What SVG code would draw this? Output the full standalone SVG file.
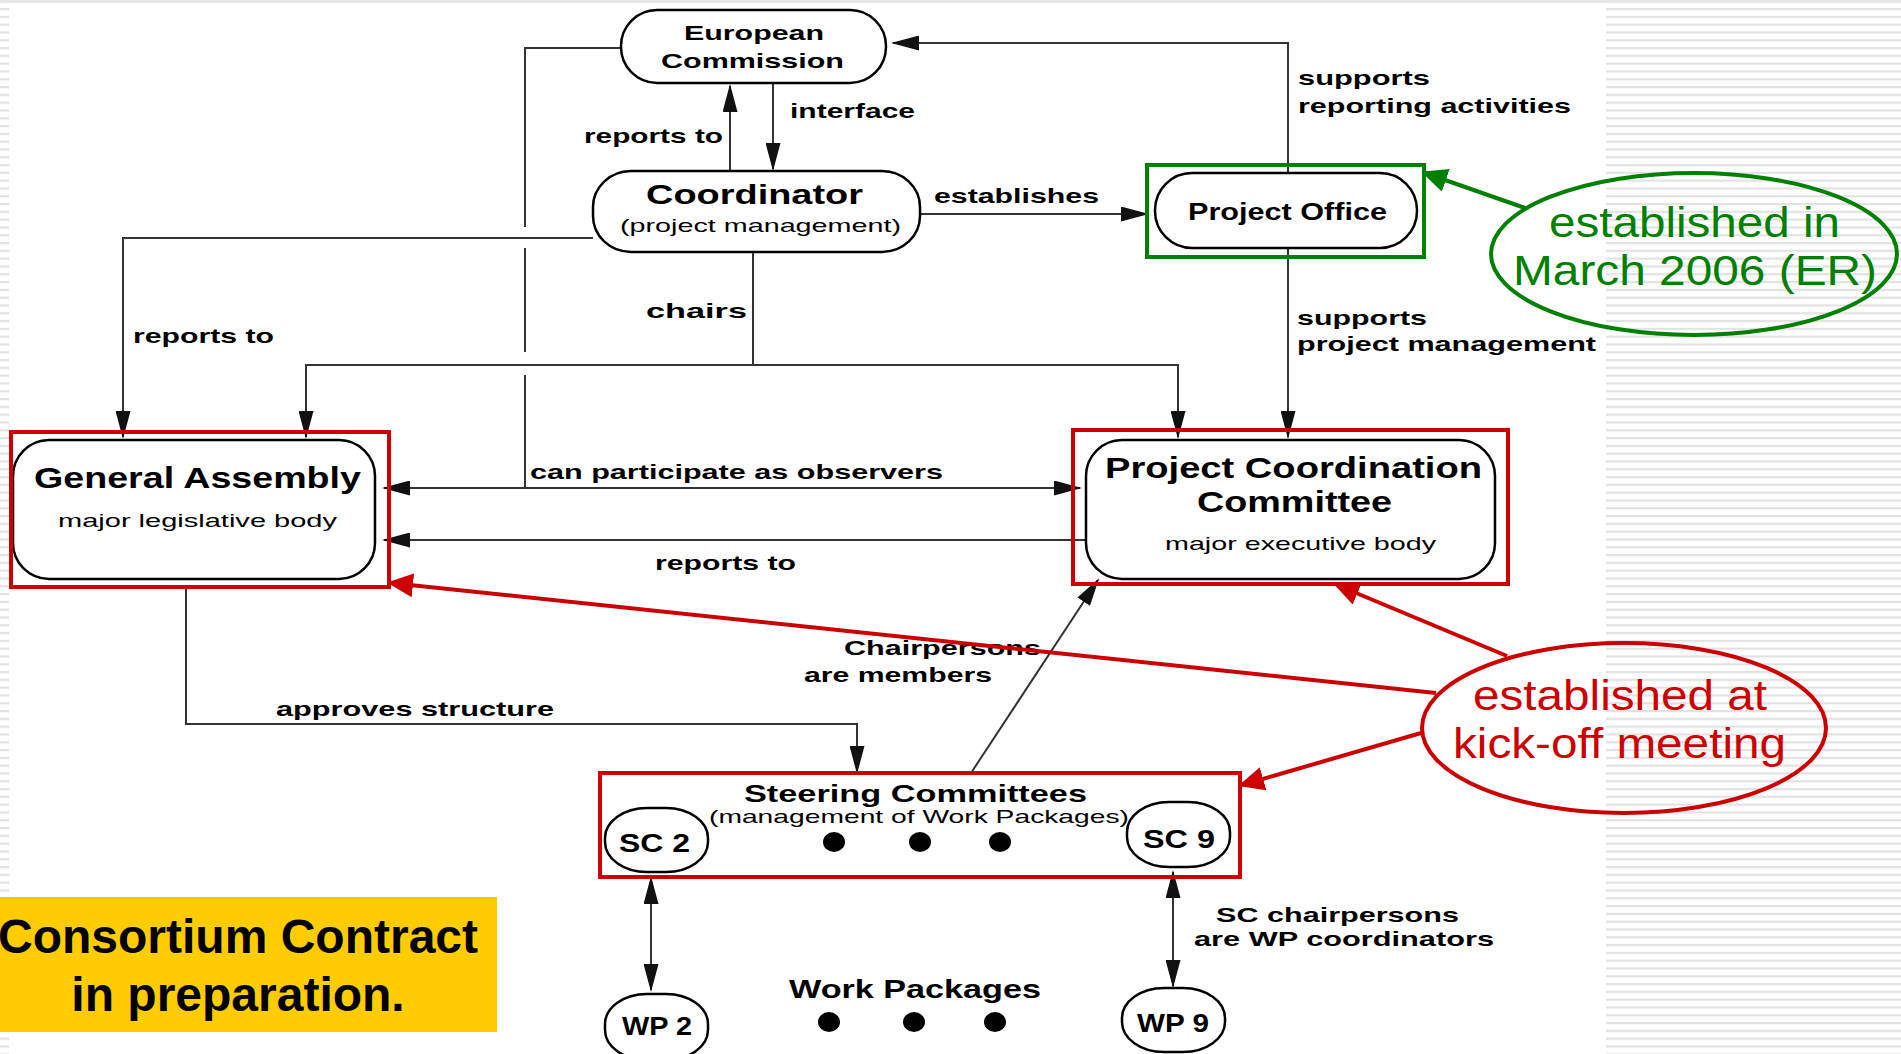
<svg xmlns="http://www.w3.org/2000/svg" width="1901" height="1054" viewBox="0 0 1901 1054">
<defs>
<pattern id="stripes" patternUnits="userSpaceOnUse" x="0" y="8" width="20" height="7.8">
<rect x="0" y="0" width="20" height="2.2" fill="#e2e2e2"/>
</pattern>
<marker id="ah" markerUnits="userSpaceOnUse" markerWidth="28" markerHeight="15" refX="26" refY="7.5" orient="auto-start-reverse" viewBox="0 0 28 15">
<path d="M0,0 L28,7.5 L0,15 z" fill="#111"/>
</marker>
<marker id="ahr" markerUnits="userSpaceOnUse" markerWidth="26" markerHeight="24" refX="22" refY="12" orient="auto" viewBox="0 0 26 24">
<path d="M0,0 L26,12 L0,24 z" fill="#CC0000"/>
</marker>
<marker id="ahg" markerUnits="userSpaceOnUse" markerWidth="26" markerHeight="24" refX="22" refY="12" orient="auto" viewBox="0 0 26 24">
<path d="M0,0 L26,12 L0,24 z" fill="#008000"/>
</marker>
</defs>
<style>
.node{fill:#fff;stroke:#000;stroke-width:2.5}
.frame-r{fill:none;stroke:#CC0000;stroke-width:4}
.frame-g{fill:none;stroke:#008000;stroke-width:4}
.conn{fill:none;stroke:#333;stroke-width:2}
.red{fill:none;stroke:#CC0000;stroke-width:4}
.green{fill:none;stroke:#008000;stroke-width:4}
text{font-family:"Liberation Sans",Arial,sans-serif;fill:#000}
.b{font-weight:bold}
.lbl{font-weight:bold;font-size:21px}
.sub{font-size:19px}
.rt{fill:#CC0000;font-size:42px}
.gt{fill:#008000;font-size:42px}
.dot{fill:#000}
</style>

<!-- background -->
<rect x="0" y="0" width="1901" height="1054" fill="#fff"/>
<rect x="1606" y="0" width="295" height="1054" fill="url(#stripes)"/>
<rect x="0" y="0" width="9" height="1054" fill="url(#stripes)"/>
<rect x="0" y="0" width="1901" height="3" fill="#e6e6e6"/>

<!-- connectors -->
<g id="connectors">
<path class="conn" d="M621,48 H525 V227 M525,248 V352 M525,375 V488"/>
<path class="conn" d="M384,488 H1080" marker-start="url(#ah)" marker-end="url(#ah)"/>
<path class="conn" d="M1086,540 H384" marker-end="url(#ah)"/>
<path class="conn" d="M593,238 H123 V437" marker-end="url(#ah)"/>
<path class="conn" d="M753,252 V365"/>
<path class="conn" d="M306,437 V365 H1178 V437" marker-start="url(#ah)" marker-end="url(#ah)"/>
<path class="conn" d="M773,84 V169" marker-end="url(#ah)"/>
<path class="conn" d="M730,171 V86" marker-end="url(#ah)"/>
<path class="conn" d="M920,214 H1147" marker-end="url(#ah)"/>
<path class="conn" d="M1288,173 V43 H893" marker-end="url(#ah)"/>
<path class="conn" d="M1288,248 V437" marker-end="url(#ah)"/>
<path class="conn" d="M971,773 L1098,580" marker-end="url(#ah)"/>
<path class="conn" d="M186,587 V724 H857 V772" marker-end="url(#ah)"/>
<path class="conn" d="M651,878 V990" marker-start="url(#ah)" marker-end="url(#ah)"/>
<path class="conn" d="M1173,872 V986" marker-start="url(#ah)" marker-end="url(#ah)"/>

<text class="lbl" x="790" y="118" textLength="125" lengthAdjust="spacingAndGlyphs">interface</text>
<text class="lbl" x="584" y="143" textLength="139" lengthAdjust="spacingAndGlyphs">reports to</text>
<text class="lbl" x="934" y="203" textLength="165" lengthAdjust="spacingAndGlyphs">establishes</text>
<text class="lbl" x="1298" y="85" textLength="132" lengthAdjust="spacingAndGlyphs">supports</text>
<text class="lbl" x="1298" y="113" textLength="273" lengthAdjust="spacingAndGlyphs">reporting activities</text>
<text class="lbl" x="1297" y="325" textLength="130" lengthAdjust="spacingAndGlyphs">supports</text>
<text class="lbl" x="1297" y="351" textLength="299" lengthAdjust="spacingAndGlyphs">project management</text>
<text class="lbl" x="646" y="318" font-size="23" textLength="101" lengthAdjust="spacingAndGlyphs">chairs</text>
<text class="lbl" x="133" y="343" textLength="141" lengthAdjust="spacingAndGlyphs">reports to</text>
<text class="lbl" x="530" y="479" textLength="413" lengthAdjust="spacingAndGlyphs">can participate as observers</text>
<text class="lbl" x="655" y="570" textLength="141" lengthAdjust="spacingAndGlyphs">reports to</text>
<text class="lbl" x="844" y="655" textLength="197" lengthAdjust="spacingAndGlyphs">Chairpersons</text>
<text class="lbl" x="804" y="682" textLength="188" lengthAdjust="spacingAndGlyphs">are members</text>
<text class="lbl" x="276" y="716" textLength="278" lengthAdjust="spacingAndGlyphs">approves structure</text>
<text class="lbl" x="1216" y="922" textLength="243" lengthAdjust="spacingAndGlyphs">SC chairpersons</text>
<text class="lbl" x="1194" y="946" textLength="300" lengthAdjust="spacingAndGlyphs">are WP coordinators</text>

<path class="red" d="M1436,693 L391,583" marker-end="url(#ahr)"/>
<path class="red" d="M1507,656 L1337,585" marker-end="url(#ahr)"/>
<path class="red" d="M1421,733 L1242,785" marker-end="url(#ahr)"/>
<path class="green" d="M1525,208 L1425,173" marker-end="url(#ahg)"/>
</g>

<!-- nodes -->
<g id="european-commission">
<rect class="node" x="621" y="10" width="265" height="73" rx="36" ry="36"/>
<text class="b" x="684" y="40" font-size="21" textLength="140" lengthAdjust="spacingAndGlyphs">European</text>
<text class="b" x="661" y="68" font-size="21" textLength="183" lengthAdjust="spacingAndGlyphs">Commission</text>
</g>

<g id="coordinator">
<rect class="node" x="593" y="171" width="327" height="81" rx="38" ry="36"/>
<text class="b" x="646" y="204" font-size="27" textLength="217" lengthAdjust="spacingAndGlyphs">Coordinator</text>
<text x="620" y="232" font-size="19" textLength="281" lengthAdjust="spacingAndGlyphs">(project management)</text>
</g>

<g id="project-office">
<rect class="node" x="1155" y="173" width="262" height="75" rx="37" ry="37"/>
<rect class="frame-g" x="1147" y="165" width="277" height="92"/>
<text class="b" x="1188" y="220" font-size="24" textLength="199" lengthAdjust="spacingAndGlyphs">Project Office</text>
</g>

<g id="general-assembly">
<rect class="node" x="13" y="440" width="362" height="139" rx="36" ry="36"/>
<rect class="frame-r" x="11" y="432" width="378" height="155"/>
<text class="b" x="34" y="488" font-size="30" textLength="327" lengthAdjust="spacingAndGlyphs">General Assembly</text>
<text x="58" y="527" font-size="19" textLength="279" lengthAdjust="spacingAndGlyphs">major legislative body</text>
</g>

<g id="project-coordination-committee">
<rect class="node" x="1086" y="440" width="409" height="139" rx="36" ry="36"/>
<rect class="frame-r" x="1073" y="430" width="435" height="154"/>
<text class="b" x="1105" y="478" font-size="30" textLength="377" lengthAdjust="spacingAndGlyphs">Project Coordination</text>
<text class="b" x="1197" y="512" font-size="30" textLength="195" lengthAdjust="spacingAndGlyphs">Committee</text>
<text x="1165" y="550" font-size="19" textLength="271" lengthAdjust="spacingAndGlyphs">major executive body</text>
</g>

<g id="steering-committees">
<rect class="frame-r" x="600" y="773" width="640" height="104"/>
<text class="b" x="744" y="802" font-size="24" textLength="343" lengthAdjust="spacingAndGlyphs">Steering Committees</text>
<text x="709" y="823" font-size="19" textLength="420" lengthAdjust="spacingAndGlyphs">(management of Work Packages)</text>
<ellipse class="dot" cx="834" cy="842" rx="11" ry="10"/>
<ellipse class="dot" cx="920" cy="842" rx="11" ry="10"/>
<ellipse class="dot" cx="1000" cy="842" rx="11" ry="10"/>
</g>

<g id="sc2">
<rect class="node" x="605" y="808" width="103" height="64" rx="42" ry="30" stroke-width="2"/>
<text class="b" x="619" y="852" font-size="26" textLength="71" lengthAdjust="spacingAndGlyphs">SC 2</text>
</g>

<g id="sc9">
<rect class="node" x="1127" y="802" width="103" height="65" rx="42" ry="30" stroke-width="2"/>
<text class="b" x="1143" y="848" font-size="26" textLength="72" lengthAdjust="spacingAndGlyphs">SC 9</text>
</g>

<g id="work-packages">
<text class="b" x="789" y="998" font-size="25" textLength="252" lengthAdjust="spacingAndGlyphs">Work Packages</text>
<ellipse class="dot" cx="829" cy="1022" rx="11" ry="10"/>
<ellipse class="dot" cx="914" cy="1022" rx="11" ry="10"/>
<ellipse class="dot" cx="995" cy="1022" rx="11" ry="10"/>
</g>

<g id="wp2">
<rect class="node" x="605" y="994" width="103" height="66" rx="42" ry="30" stroke-width="2"/>
<text class="b" x="622" y="1035" font-size="26" textLength="70" lengthAdjust="spacingAndGlyphs">WP 2</text>
</g>

<g id="wp9">
<rect class="node" x="1122" y="988" width="103" height="64" rx="42" ry="30" stroke-width="2"/>
<text class="b" x="1137" y="1032" font-size="26" textLength="72" lengthAdjust="spacingAndGlyphs">WP 9</text>
</g>

<g id="note-er">
<ellipse class="green" cx="1694" cy="254" rx="203" ry="81"/>
<text class="gt" x="1549" y="237" textLength="291" lengthAdjust="spacingAndGlyphs">established in</text>
<text class="gt" x="1513" y="285" font-size="44" textLength="364" lengthAdjust="spacingAndGlyphs">March 2006 (ER)</text>
</g>

<g id="note-kickoff">
<ellipse class="red" cx="1624" cy="728" rx="202" ry="85"/>
<text class="rt" x="1473" y="710" textLength="294" lengthAdjust="spacingAndGlyphs">established at</text>
<text class="rt" x="1453" y="758" textLength="333" lengthAdjust="spacingAndGlyphs">kick-off meeting</text>
</g>

<g id="consortium-note">
<rect x="0" y="897" width="497" height="135" fill="#FFCC00"/>
<text class="b" x="238" y="953" font-size="48" text-anchor="middle">Consortium Contract</text>
<text class="b" x="238" y="1011" font-size="48" text-anchor="middle">in preparation.</text>
</g>
</svg>
